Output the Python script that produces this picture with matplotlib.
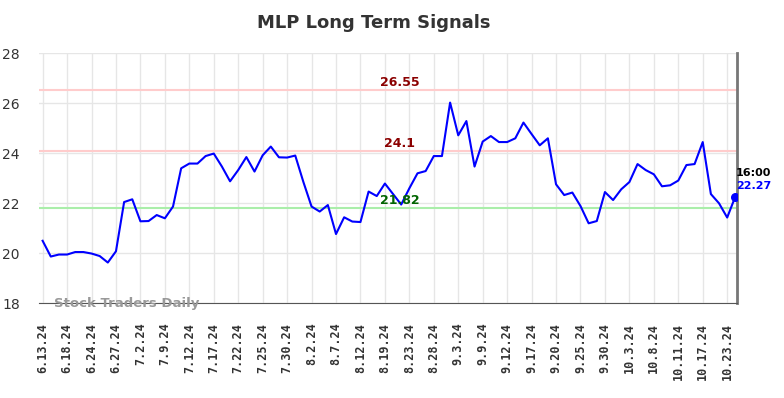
import matplotlib
matplotlib.use('Agg')
import matplotlib.pyplot as plt

# closing prices, one per trading day shown
prices = [
    20.50, 19.87, 19.95, 19.95, 20.05, 20.05, 19.99, 19.89, 19.63, 20.08,
    22.05, 22.16, 21.28, 21.29, 21.53, 21.40, 21.87, 23.40, 23.59, 23.59,
    23.89, 23.99, 23.47, 22.88, 23.33, 23.85, 23.27, 23.92, 24.27, 23.84,
    23.83, 23.91, 22.85, 21.87, 21.67, 21.93, 20.77, 21.44, 21.27, 21.25,
    22.47, 22.29, 22.79, 22.37, 21.95, 22.60, 23.20, 23.29, 23.89, 23.89,
    26.03, 24.72, 25.29, 23.47, 24.47, 24.69, 24.45, 24.45, 24.60, 25.23,
    24.77, 24.32, 24.60, 22.76, 22.33, 22.43, 21.89, 21.20, 21.29, 22.45,
    22.13, 22.56, 22.85, 23.57, 23.33, 23.16, 22.68, 22.72, 22.91, 23.53,
    23.57, 24.45, 22.37, 22.00, 21.43, 22.27,
]

tick_labels = [
    '6.13.24', '6.18.24', '6.24.24', '6.27.24', '7.2.24', '7.9.24',
    '7.12.24', '7.17.24', '7.22.24', '7.25.24', '7.30.24', '8.2.24',
    '8.7.24', '8.12.24', '8.19.24', '8.23.24', '8.28.24', '9.3.24',
    '9.9.24', '9.12.24', '9.17.24', '9.20.24', '9.25.24', '9.30.24',
    '10.3.24', '10.8.24', '10.11.24', '10.17.24', '10.23.24',
]

upper_levels = [26.55, 24.1]
lower_level = 21.82
last_time = '16:00'

fig = plt.figure(figsize=(7.84, 3.98), dpi=100)
ax = fig.add_axes([0.050, 0.238, 0.890, 0.628])

x = list(range(len(prices)))
ax.plot(x, prices, color='blue', linewidth=1.5, zorder=3)
ax.scatter([x[-1]], [prices[-1]], color='blue', s=30, zorder=4)

mid = 43.8  # level labels sit near the middle of the chart
for lvl in upper_levels:
    ax.axhline(lvl, color='#ffcccc', linewidth=1.5, zorder=2)
    ax.text(mid, lvl + 0.28, f'{lvl:g}', color='#8b0000', fontsize=9,
            fontweight='bold', ha='center', va='center')
ax.axhline(lower_level, color='#aaeeaa', linewidth=1.5, zorder=2)
ax.text(mid, lower_level + 0.3, f'{lower_level:g}', color='#006400',
        fontsize=9, fontweight='bold', ha='center', va='center')

ax.text(x[-1] + 0.1, prices[-1] + 0.94, last_time, color='black',
        fontsize=8, fontweight='bold', ha='left', va='center')
ax.text(x[-1] + 0.1, prices[-1] + 0.42, f'{prices[-1]:.2f}', color='blue',
        fontsize=8, fontweight='bold', ha='left', va='center')

ax.text(1.4, 18.0, 'Stock Traders Daily', color='#999999', fontsize=9.5,
        fontweight='bold', ha='left', va='center')

ax.set_xlim(-0.42, 85.2)
ax.set_ylim(18, 28)
ax.set_yticks([18, 20, 22, 24, 26, 28])
ax.set_xticks(x[::3])
ax.set_xticklabels(tick_labels, rotation=90, fontsize=8.5, fontweight='bold',
                   family='DejaVu Sans Mono')
ax.tick_params(axis='y', labelsize=10, colors='#333333', length=0, pad=14)
ax.tick_params(axis='x', length=0, pad=14, colors='#333333')

ax.grid(True, color='#e6e6e6', linewidth=1)
ax.set_axisbelow(True)
for side in ['top', 'left']:
    ax.spines[side].set_visible(False)
ax.spines['bottom'].set_color('#555555')
ax.spines['right'].set_color('#777777')
ax.spines['right'].set_linewidth(2)

fig.suptitle('MLP Long Term Signals', x=0.477, y=0.965, fontsize=13,
             fontweight='bold', color='#333333')

fig.savefig('out.png', dpi=100)
